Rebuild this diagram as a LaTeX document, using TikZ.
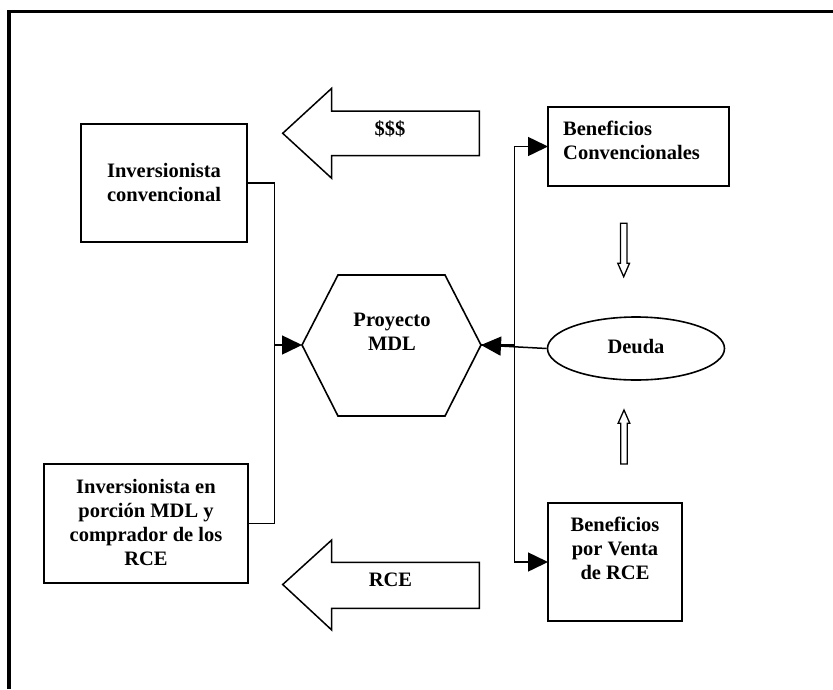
\documentclass[tikz,border=0pt]{standalone}
\usepackage{fontspec}
\setmainfont{Liberation Serif}
\usetikzlibrary{arrows.meta,shapes.geometric}
\begin{document}
\begin{tikzpicture}[x=1pt,y=-1pt,
  lbl/.style={font=\fontsize{20.5}{24}\selectfont\bfseries, inner sep=0pt, align=center},
  boxline/.style={line width=1.6pt},
  ln/.style={line width=1.5pt},
  arr/.style={ln, -{Triangle[length=20pt,width=19pt]}},
  blockarrow/.style={draw, line width=1.5pt, line join=miter, fill=white},
  hollow/.style={draw, line width=1.3pt, line join=miter, fill=white},
  frame/.style={line width=3.2pt}
]
\useasboundingbox (0,0) rectangle (833,689);
% outer frame (cut at the right and bottom)
\draw[frame] (9,689) -- (9,11.5) -- (833,11.5);

% boxes
\draw[boxline] (81,124) rectangle (247,242);
\node[lbl] (inv1) at (164,182) {Inversionista\\convencional};
\coordinate (inv1e) at (247,183);

\draw[boxline] (44,464) rectangle (248,583);
\node[lbl] (inv2) at (146,522) {Inversionista en\\porción MDL y\\comprador de los\\RCE};
\coordinate (inv2e) at (248,523.5);

\draw[boxline] (548,107) rectangle (729,186);
\node[lbl, anchor=west, align=left] (bc) at (563,140) {Beneficios\\Convencionales};
\coordinate (bcw) at (548,146.5);

\draw[boxline] (548,503) rectangle (682,621);
\node[lbl] (bv) at (615,548) {Beneficios\\por Venta\\de RCE};
\coordinate (bvw) at (548,562);

% hexagon
\draw[boxline, line join=miter] (302,345) -- (338,275) -- (445,275) -- (481,345) -- (445,416) -- (338,416) -- cycle;
\node[lbl] (proj) at (392,332) {Proyecto\\MDL};
\coordinate (projw) at (302,345);
\coordinate (proje) at (481,345);

% ellipse
\node[draw, ellipse, boxline, minimum width=177pt, minimum height=63pt, inner sep=0pt] (deuda) at (636,348.5) {};
\node[lbl] (deudat) at (636,347) {Deuda};

% block arrows
\draw[blockarrow] (282.7,133.3) -- (331.7,88.3) -- (331.7,111) -- (479.3,111) -- (479.3,155.7) -- (331.7,155.7) -- (331.7,178.3) -- cycle;
\node[lbl] (money) at (390,128.5) {\$\$\$};

\draw[blockarrow] (282.7,584.5) -- (331.7,540) -- (331.7,562.3) -- (479.3,562.3) -- (479.3,608.3) -- (331.7,608.3) -- (331.7,630) -- cycle;
\node[lbl] (rce) at (390.5,580) {RCE};

% hollow arrows
\draw[hollow] (620.5,223.3) -- (627,223.3) -- (627,263.3) -- (629.5,263.3) -- (623.7,276.7) -- (617.8,263.3) -- (620.5,263.3) -- cycle;
\draw[hollow] (620.7,464) -- (627.2,464) -- (627.2,423.3) -- (629.8,423.3) -- (624,410) -- (618.1,423.3) -- (620.7,423.3) -- cycle;

% connectors left
\coordinate (jl) at (274.3,345);
\draw[ln] (inv1e) -| (jl) |- (inv2e);
\draw[arr] (jl) -- (projw);

% connectors right
\coordinate (jr) at (514.3,345);
\draw[ln] (proje) -- (jr);
\draw[arr] (jr) |- (bcw);
\draw[arr] (jr) |- (bvw);
\draw[arr] (deuda.west) -- (proje);
\end{tikzpicture}
\end{document}
